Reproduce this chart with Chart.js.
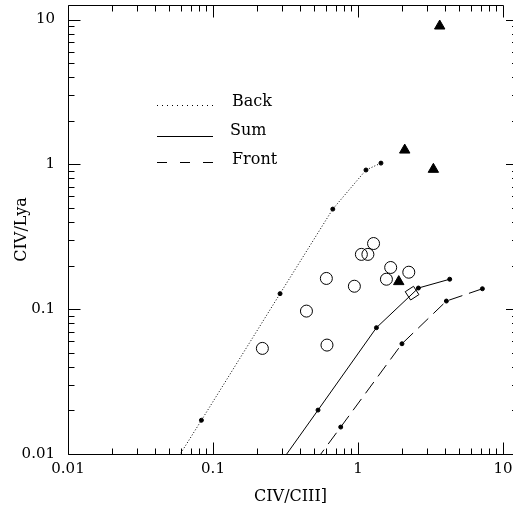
<!DOCTYPE html>
<html>
<head>
    <meta charset="UTF-8">
    <title>CIV/Lya vs CIV/CIII]</title>
    <script src="https://cdn.jsdelivr.net/npm/chart.js"></script>
    <style>
        html, body { margin: 0; padding: 0; background: #fff; }
        #chart-container { width: 513px; height: 506px; }
    </style>
</head>
<body>
    <div id="chart-container">
        <canvas id="myChart" width="513" height="506"></canvas>
    </div>

    <script>
        // model curves (first point lies below the plot, the line runs off the bottom axis)
        const backX  = [0.0335, 0.0832, 0.290, 0.670, 1.135, 1.44];
        const backY  = [0.004, 0.0171, 0.128, 0.491, 0.914, 1.02];
        const sumX   = [0.168, 0.530, 1.34, 2.61, 4.29];
        const sumY   = [0.004, 0.0201, 0.0745, 0.140, 0.161];
        const frontX = [0.282, 0.760, 2.01, 4.07, 7.21];
        const frontY = [0.004, 0.01535, 0.0577, 0.1138, 0.1384];

        // observed objects
        const circX = [1.28, 1.055, 1.17, 1.68, 2.24, 1.57, 0.605, 0.944, 0.441, 0.219, 0.611];
        const circY = [0.284, 0.239, 0.239, 0.194, 0.180, 0.161, 0.163, 0.144, 0.097, 0.0536, 0.0565];
        const triX  = [3.66, 2.10, 3.31, 1.91];
        const triY  = [9.02, 1.255, 0.924, 0.155];
        const diamX = [2.36];
        const diamY = [0.129];

        const xTicks = [0.01, 0.1, 1, 10];
        const yTicks = [0.01, 0.1, 1, 10];
        const seriesNames = ['Back', 'Sum', 'Front'];

        const FONT = "'DejaVu Serif', 'Liberation Serif', serif";

        function pts(xs, ys) {
            return xs.map((v, i) => ({ x: v, y: ys[i] }));
        }

        function curve(label, xs, ys, dash) {
            return {
                label: label,
                data: pts(xs, ys),
                showLine: true,
                borderColor: '#000',
                backgroundColor: '#000',
                borderWidth: 1,
                borderDash: dash,
                pointRadius: 2,
                pointStyle: 'circle',
                tension: 0
            };
        }

        // inward tick marks + frame, PGPLOT style
        const frame = {
            id: 'frame',
            afterDraw(chart) {
                const { ctx, chartArea: a, scales: { x, y } } = chart;
                const r = v => Math.round(v) + 0.5;
                const seg = (x1, y1, x2, y2) => {
                    ctx.beginPath(); ctx.moveTo(x1, y1); ctx.lineTo(x2, y2); ctx.stroke();
                };
                ctx.save();
                ctx.strokeStyle = '#000';
                ctx.lineWidth = 1;
                const L = r(a.left), B = r(a.bottom), T = r(a.top);
                const x10 = r(x.getPixelForValue(10));
                const rightAxis = a.right + 5;
                seg(L, T, L, B);
                seg(L, B, a.right, B);
                seg(L, T, x10, T);
                for (const d of xTicks) {
                    for (let m = 1; m <= 9; m++) {
                        const v = d * m;
                        if (v > 10 + 1e-9) break;
                        const px = r(x.getPixelForValue(v));
                        const len = m === 1 ? 12 : 6;
                        seg(px, B, px, B - len);
                        seg(px, T, px, T + len);
                    }
                }
                for (const d of yTicks) {
                    for (let m = 1; m <= 9; m++) {
                        const v = d * m;
                        if (v > 10 + 1e-9) break;
                        const py = r(y.getPixelForValue(v));
                        const len = m === 1 ? 12 : 6;
                        seg(L, py, L + len, py);
                        seg(rightAxis, py, rightAxis - len, py);
                    }
                }
                ctx.restore();
            }
        };

        // hand placed legend like the original
        const keyBox = {
            id: 'keyBox',
            afterDraw(chart) {
                const ctx = chart.ctx;
                const rows = [
                    { text: seriesNames[0], ty: 101.5, ly: 105.5, dash: [1, 4], tx: 232 },
                    { text: seriesNames[1], ty: 130.5, ly: 136.5, dash: [], tx: 230 },
                    { text: seriesNames[2], ty: 159.5, ly: 162.5, dash: [10, 13], tx: 232 }
                ];
                ctx.save();
                ctx.strokeStyle = '#000';
                ctx.fillStyle = '#000';
                ctx.lineWidth = 1;
                ctx.font = '16px ' + FONT;
                ctx.textBaseline = 'middle';
                rows.forEach(row => {
                    ctx.setLineDash(row.dash);
                    ctx.beginPath();
                    ctx.moveTo(157, row.ly);
                    ctx.lineTo(213, row.ly);
                    ctx.stroke();
                    ctx.fillText(row.text, row.tx, row.ty);
                });
                ctx.restore();
            }
        };

        function noPad(s) {
            s.paddingTop = 0;
            s.paddingBottom = 0;
            s.paddingLeft = 0;
            s.paddingRight = 0;
        }

        const ctx = document.getElementById('myChart').getContext('2d');
        const myChart = new Chart(ctx, {
            type: 'scatter',
            data: {
                datasets: [
                    curve(seriesNames[0], backX, backY, [1, 2]),
                    curve(seriesNames[1], sumX, sumY, []),
                    curve(seriesNames[2], frontX, frontY, [14, 7]),
                    {
                        label: 'obs',
                        data: pts(circX, circY),
                        pointStyle: 'circle',
                        pointRadius: 6,
                        borderColor: '#000',
                        backgroundColor: 'rgba(0,0,0,0)',
                        borderWidth: 1
                    },
                    {
                        label: 'tri',
                        data: pts(triX, triY),
                        pointStyle: 'triangle',
                        pointRadius: 6,
                        borderColor: '#000',
                        backgroundColor: '#000',
                        borderWidth: 1
                    },
                    {
                        label: 'diamond',
                        data: pts(diamX, diamY),
                        pointStyle: 'rectRot',
                        pointRadius: 7,
                        rotation: 12,
                        borderColor: '#000',
                        backgroundColor: 'rgba(0,0,0,0)',
                        borderWidth: 1
                    }
                ]
            },
            options: {
                responsive: false,
                animation: false,
                events: [],
                layout: {
                    autoPadding: false,
                    padding: { top: 5, right: 0, bottom: 0, left: 0 }
                },
                plugins: {
                    legend: { display: false },
                    tooltip: { enabled: false }
                },
                scales: {
                    x: {
                        type: 'logarithmic',
                        position: 'bottom',
                        min: 0.01,
                        max: 11.72,
                        afterFit: s => { s.height = 52; noPad(s); },
                        afterBuildTicks: s => { s.ticks = xTicks.map(v => ({ value: v })); },
                        grid: { display: false, drawTicks: false },
                        border: { display: false },
                        ticks: {
                            autoSkip: false,
                            maxRotation: 0,
                            padding: 6,
                            color: '#000',
                            font: { family: FONT, size: 15 },
                            callback: v => String(v)
                        },
                        title: {
                            display: true,
                            text: 'CIV/CIII]',
                            color: '#000',
                            font: { family: FONT, size: 16 },
                            padding: { top: 0, bottom: 0 }
                        }
                    },
                    y: {
                        type: 'logarithmic',
                        min: 0.01,
                        max: 12.6,
                        afterFit: s => { s.width = 68; noPad(s); },
                        afterBuildTicks: s => { s.ticks = yTicks.map(v => ({ value: v })); },
                        grid: { display: false, drawTicks: false },
                        border: { display: false },
                        ticks: {
                            autoSkip: false,
                            padding: 13,
                            color: '#000',
                            font: { family: FONT, size: 15 },
                            callback: v => String(v)
                        },
                        title: {
                            display: true,
                            text: 'CIV/Lya',
                            color: '#000',
                            font: { family: FONT, size: 16 },
                            padding: { top: 12, bottom: 0 }
                        }
                    }
                }
            },
            plugins: [frame, keyBox]
        });
    </script>
</body>
</html>
